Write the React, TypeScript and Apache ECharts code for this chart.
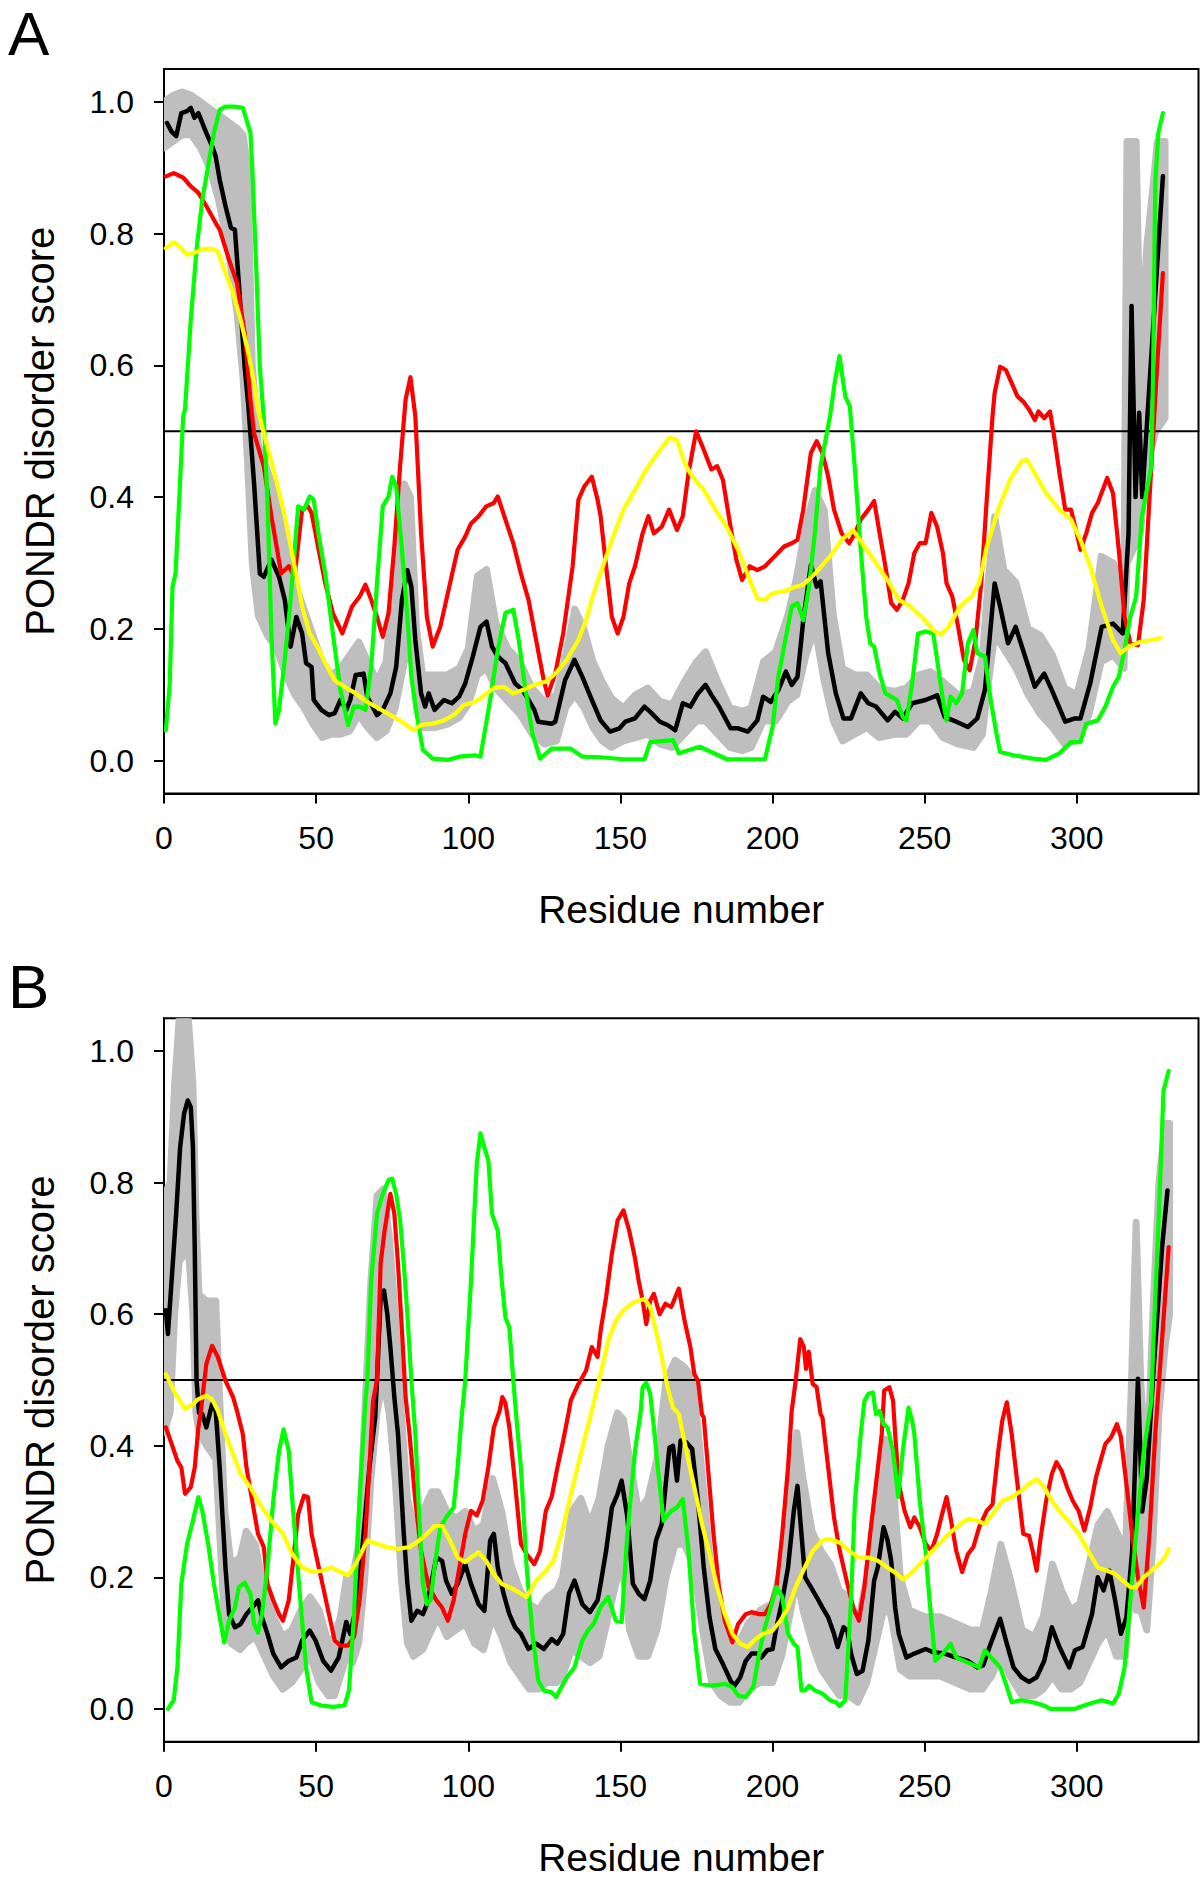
import React, { useEffect, useRef } from 'react';
import * as echarts from 'echarts';

// ---------- axes ----------
const xTicks = [0, 50, 100, 150, 200, 250, 300];
const yTicks = [0, 0.2, 0.4, 0.6, 0.8, 1.0];
const xRange = [0, 340];
const yRange = [-0.05, 1.05];
const threshold = 0.5;
const xTitle = 'Residue number';
const yTitle = 'PONDR disorder score';
const panelLabels = ['A', 'B'];

// ---------- panel A ----------
const blackA = [[1,0.968],[2.5,0.955],[4,0.948],[5.7,0.983],[7.6,0.986],[8.8,0.991],[10,0.976],[11.3,0.983],[13.9,0.953],[15.8,0.933],[17,0.917],[18.3,0.882],[20.2,0.842],[22,0.809],[23.3,0.806],[24.6,0.725],[26.5,0.598],[27.7,0.54],[29.6,0.421],[31.5,0.284],[32.8,0.279],[35.3,0.305],[37.8,0.279],[39.7,0.244],[41.6,0.173],[43.5,0.218],[45.4,0.193],[46.7,0.148],[48.5,0.142],[49.2,0.092],[51.7,0.077],[54.2,0.069],[56.1,0.072],[58,0.092],[59.9,0.077],[61.2,0.092],[63,0.13],[65.6,0.132],[66.8,0.097],[70,0.069],[71.9,0.077],[74.4,0.102],[76.3,0.142],[78.2,0.244],[80,0.289],[81.3,0.264],[82.6,0.183],[84.5,0.102],[85.8,0.082],[87,0.102],[88.9,0.077],[92,0.092],[94.6,0.087],[97,0.097],[99,0.117],[101.5,0.158],[104,0.203],[106,0.211],[107.8,0.173],[109.7,0.158],[112.2,0.148],[115.4,0.117],[117.9,0.107],[121.7,0.077],[123,0.059],[127.4,0.056],[128.6,0.059],[131.8,0.122],[134.9,0.153],[137.5,0.127],[140.6,0.092],[143.5,0.061],[146.6,0.044],[149.7,0.049],[151.6,0.059],[154.8,0.064],[157.9,0.082],[159.8,0.074],[163,0.059],[165.5,0.054],[168,0.046],[170.5,0.087],[173,0.082],[175.5,0.102],[178,0.115],[180,0.099],[182.4,0.082],[186.2,0.049],[188.7,0.049],[191.9,0.044],[195,0.061],[196.9,0.097],[199.4,0.089],[201.9,0.107],[204.4,0.135],[206.3,0.115],[208.2,0.127],[210.1,0.213],[212.6,0.297],[214.5,0.264],[215.8,0.272],[218.3,0.163],[220.8,0.102],[223.3,0.064],[225.8,0.064],[229,0.102],[231.5,0.087],[234,0.082],[237.8,0.061],[240.3,0.074],[242.8,0.064],[245.9,0.087],[250.3,0.092],[254.1,0.099],[256.6,0.066],[260.4,0.059],[264.2,0.051],[267.3,0.064],[269.8,0.107],[273,0.269],[274.8,0.234],[277.4,0.178],[279.9,0.203],[283,0.158],[286.2,0.112],[289.3,0.132],[291.8,0.107],[296.2,0.059],[299.4,0.064],[301.2,0.064],[304.4,0.117],[308.2,0.203],[311.9,0.208],[315.1,0.193],[317,0.345],[318,0.69],[319.3,0.4],[320.5,0.528],[321.5,0.4],[328.3,0.887]];

const redA = [[0.6,0.887],[3.2,0.892],[6.3,0.885],[8.8,0.872],[11.3,0.862],[13.9,0.842],[16.4,0.821],[18.3,0.806],[21.4,0.76],[24,0.725],[26.5,0.649],[28.4,0.548],[29.6,0.497],[32.8,0.447],[35.3,0.371],[37.2,0.32],[38.5,0.284],[41,0.295],[42.9,0.279],[45.4,0.381],[47.3,0.386],[48.5,0.376],[50.4,0.33],[53,0.269],[55.5,0.224],[58.6,0.193],[61.8,0.234],[64.3,0.249],[66.2,0.267],[68.1,0.244],[70,0.218],[71.9,0.188],[73.8,0.224],[75.7,0.325],[77.6,0.447],[79.4,0.548],[81,0.582],[82.6,0.523],[84.5,0.345],[86.4,0.218],[88.3,0.173],[90.8,0.203],[94,0.269],[96.5,0.32],[99,0.34],[100.9,0.36],[103.4,0.371],[105.9,0.386],[108.4,0.391],[109.7,0.401],[112.2,0.366],[114.8,0.33],[117.3,0.284],[119.8,0.244],[122.3,0.183],[124.8,0.122],[126.1,0.099],[128.6,0.132],[131.2,0.193],[134.3,0.295],[136.2,0.396],[138.1,0.416],[140.6,0.431],[142.5,0.396],[143.5,0.371],[145.3,0.295],[147.2,0.218],[149.1,0.193],[151,0.218],[152.9,0.269],[154.8,0.295],[157.3,0.345],[159.2,0.371],[161,0.345],[163.6,0.355],[166,0.381],[168.6,0.35],[170.5,0.371],[172.4,0.437],[174.9,0.5],[177.4,0.472],[179.9,0.442],[181.8,0.447],[183.7,0.426],[186.2,0.355],[188.1,0.305],[190,0.274],[192.5,0.295],[195,0.289],[197.5,0.295],[200.7,0.31],[203.8,0.325],[206.3,0.33],[208.2,0.335],[210.1,0.381],[212.6,0.467],[214.5,0.485],[216.4,0.467],[218.3,0.431],[220.2,0.381],[222.7,0.345],[225.2,0.33],[227.1,0.345],[229,0.366],[231.5,0.381],[233.4,0.394],[235.2,0.345],[237.1,0.295],[239,0.239],[240.9,0.229],[242.8,0.244],[244.7,0.269],[246.6,0.315],[248.4,0.33],[250.3,0.33],[252.2,0.376],[254.1,0.355],[256,0.315],[257.2,0.269],[259.1,0.249],[261,0.203],[262.9,0.153],[264.8,0.137],[266.7,0.183],[268.6,0.269],[270.4,0.396],[272.3,0.523],[273,0.558],[274.8,0.598],[276.7,0.593],[278.6,0.573],[280.5,0.553],[282.4,0.545],[284.3,0.533],[286.2,0.517],[287.4,0.53],[289.3,0.52],[291.2,0.53],[292.4,0.497],[294.3,0.437],[296.2,0.381],[298.1,0.381],[300,0.345],[301.2,0.32],[303.1,0.345],[305,0.376],[306.9,0.391],[310,0.429],[311.9,0.406],[313.8,0.32],[315.7,0.218],[317.6,0.178],[320.1,0.175],[322,0.244],[324.5,0.447],[326.4,0.598],[328.3,0.74]];

const greenA = [[0.6,0.046],[1.9,0.117],[2.8,0.264],[3.8,0.284],[5,0.396],[6.3,0.523],[6.9,0.533],[8.8,0.669],[10.7,0.776],[12.6,0.852],[14.5,0.902],[16.4,0.953],[18.3,0.988],[20.2,0.993],[22.7,0.993],[25.9,0.991],[27.1,0.973],[28.4,0.953],[29,0.902],[30.3,0.75],[31.5,0.598],[32.8,0.52],[34,0.396],[35.3,0.193],[36.6,0.056],[37.8,0.077],[39.7,0.153],[41.6,0.244],[44.1,0.386],[46,0.381],[47.9,0.401],[49.2,0.396],[51.1,0.335],[53,0.284],[55.5,0.193],[58,0.107],[60.5,0.054],[62.4,0.082],[64.3,0.082],[66.2,0.077],[68.1,0.142],[70,0.269],[71.9,0.386],[73.8,0.401],[75,0.431],[76.3,0.416],[78.2,0.32],[80,0.218],[81.3,0.127],[83.2,0.066],[85.1,0.016],[88.3,0.003],[93.3,0.001],[97.1,0.006],[102.1,0.008],[104,0.006],[105.3,0.041],[107.2,0.092],[109.7,0.168],[112.2,0.224],[114.8,0.229],[116.6,0.183],[118.5,0.117],[121.1,0.041],[123.6,0.003],[127.4,0.018],[133.7,0.018],[137.5,0.006],[143.5,0.005],[151,0.002],[157.9,0.002],[159.8,0.028],[167.3,0.031],[169.2,0.011],[176.1,0.021],[185,0.002],[197.5,0.002],[200,0.051],[201.9,0.127],[203.8,0.173],[206.3,0.234],[208.2,0.239],[210.1,0.213],[212,0.264],[213.9,0.345],[215.8,0.447],[218.9,0.523],[220.4,0.573],[222,0.614],[223.9,0.553],[225.4,0.538],[227,0.447],[229,0.32],[230.8,0.218],[232.1,0.178],[233.4,0.173],[235.2,0.132],[237.1,0.102],[239,0.097],[240.9,0.092],[242.8,0.066],[244,0.061],[245.9,0.117],[247.8,0.193],[250.3,0.196],[252.8,0.193],[254.1,0.153],[256,0.092],[257.2,0.061],[258.5,0.097],[260.4,0.087],[262.3,0.102],[264.2,0.178],[266,0.198],[267.3,0.163],[269.8,0.158],[271.7,0.092],[273.6,0.041],[274.8,0.013],[279.2,0.008],[285.5,0.003],[289.9,0.001],[294.3,0.011],[298.1,0.028],[301.2,0.028],[303.1,0.056],[306.9,0.061],[309.4,0.082],[311.9,0.112],[313.8,0.127],[315.7,0.168],[317.6,0.218],[319.5,0.249],[321.4,0.371],[324.5,0.447],[325.1,0.598],[325.8,0.877],[326.8,0.953],[328.3,0.983]];

const yellowA = [[0.6,0.778],[3.2,0.787],[5,0.781],[7.6,0.768],[10,0.771],[12.6,0.777],[15.8,0.777],[17.7,0.773],[20.2,0.74],[22.7,0.71],[25.2,0.669],[27.7,0.619],[29.6,0.573],[30.9,0.533],[32.8,0.497],[36.6,0.431],[39.7,0.371],[42.9,0.295],[45.4,0.234],[47.9,0.193],[50.4,0.173],[53,0.148],[56.1,0.122],[59.3,0.112],[63,0.102],[66.8,0.089],[70.6,0.079],[74.4,0.069],[78.2,0.059],[82,0.046],[84.5,0.054],[88.3,0.056],[92,0.061],[95.8,0.071],[98.4,0.084],[102.1,0.089],[104.7,0.097],[108.4,0.11],[111.6,0.112],[114.8,0.102],[117.9,0.107],[121.7,0.115],[125.5,0.12],[128.6,0.132],[132.4,0.153],[136.2,0.183],[138.7,0.213],[141.2,0.254],[143.5,0.285],[147.2,0.335],[151,0.381],[154.8,0.411],[158.5,0.442],[162.3,0.467],[166.1,0.49],[168.6,0.487],[171.1,0.452],[173.6,0.431],[177.4,0.411],[181.2,0.381],[184.9,0.355],[188.7,0.32],[192.5,0.274],[195,0.246],[197.5,0.244],[200,0.254],[203.8,0.257],[207.6,0.264],[210.1,0.267],[214,0.284],[218.9,0.31],[222.7,0.335],[226.4,0.35],[230.2,0.325],[234,0.3],[237.8,0.274],[241.5,0.244],[245.3,0.234],[249.1,0.218],[252.8,0.198],[255.4,0.191],[257.9,0.203],[261.6,0.234],[265.4,0.249],[267.9,0.269],[270.4,0.325],[274.2,0.381],[278,0.426],[281.8,0.454],[283.6,0.457],[286.8,0.431],[289.9,0.406],[294.3,0.381],[298.1,0.366],[301.2,0.335],[304.4,0.295],[308.2,0.234],[311.9,0.183],[314.4,0.163],[317,0.173],[320.7,0.18],[324.5,0.183],[327.6,0.186]];

const greyHighA = [[0,1.0],[3,1.01],[6,1.015],[9,1.01],[12,1.0],[15,0.99],[18,0.98],[21,0.97],[24,0.96],[26,0.95],[27.5,0.9],[29,0.6],[31,0.48],[34,0.44],[37,0.4],[40,0.33],[43,0.27],[46,0.23],[49,0.19],[52,0.15],[55,0.13],[58,0.14],[61,0.16],[64,0.18],[67,0.15],[70,0.12],[73,0.15],[76,0.3],[79,0.42],[81,0.4],[83,0.2],[85,0.13],[89,0.13],[93,0.13],[97,0.14],[100,0.17],[103,0.28],[106,0.29],[109,0.21],[113,0.17],[117,0.15],[121,0.11],[125,0.09],[129,0.1],[132,0.16],[135,0.23],[138,0.2],[141,0.15],[144,0.12],[147,0.095],[151,0.08],[155,0.1],[159,0.11],[163,0.09],[167,0.085],[171,0.12],[175,0.15],[178,0.165],[182,0.12],[186,0.08],[190,0.075],[193,0.08],[197,0.15],[201,0.165],[205,0.22],[208,0.28],[211,0.36],[214,0.41],[217,0.38],[220,0.22],[223,0.14],[227,0.13],[231,0.13],[235,0.11],[240,0.105],[244,0.11],[248,0.13],[252,0.135],[256,0.12],[261,0.1],[266,0.105],[269,0.16],[271,0.28],[273,0.37],[276,0.29],[280,0.27],[284,0.2],[288,0.19],[292,0.16],[296,0.11],[300,0.1],[304,0.17],[308,0.31],[312,0.3],[315.5,0.26],[316.5,0.94],[319.5,0.94],[320.5,0.7],[322,0.7],[323,0.78],[325,0.87],[326.5,0.94],[329,0.94]];

const greyLowA = [[0,0.93],[3,0.94],[6,0.95],[9,0.95],[12,0.93],[15,0.9],[18,0.85],[21,0.78],[24,0.68],[26,0.58],[27.5,0.45],[29,0.3],[31,0.22],[34,0.19],[37,0.17],[40,0.13],[43,0.1],[46,0.08],[49,0.055],[52,0.035],[55,0.04],[58,0.04],[61,0.045],[64,0.07],[67,0.05],[70,0.035],[73,0.045],[76,0.08],[79,0.15],[81,0.17],[83,0.08],[85,0.05],[89,0.05],[93,0.055],[97,0.065],[100,0.085],[103,0.13],[106,0.14],[109,0.11],[113,0.09],[117,0.07],[121,0.04],[125,0.025],[129,0.03],[132,0.08],[135,0.1],[138,0.08],[141,0.05],[144,0.03],[147,0.02],[151,0.03],[155,0.035],[159,0.04],[163,0.025],[167,0.02],[171,0.04],[175,0.06],[178,0.06],[182,0.04],[186,0.02],[190,0.015],[193,0.02],[197,0.06],[201,0.06],[205,0.09],[208,0.1],[211,0.16],[214,0.2],[217,0.12],[220,0.06],[223,0.03],[227,0.04],[231,0.05],[235,0.035],[240,0.04],[244,0.04],[248,0.06],[252,0.06],[256,0.035],[261,0.025],[266,0.02],[269,0.04],[271,0.12],[273,0.19],[276,0.17],[280,0.14],[284,0.1],[288,0.07],[292,0.05],[296,0.025],[300,0.03],[304,0.07],[308,0.15],[312,0.16],[315.5,0.14],[316.5,0.3],[319.5,0.33],[321,0.35],[323,0.45],[326,0.5],[329,0.52]];

// ---------- panel B ----------
const blackB = [[0.6,0.606],[1.3,0.57],[2.5,0.651],[4,0.753],[5.3,0.854],[6.6,0.905],[7.8,0.925],[8.8,0.915],[9.5,0.854],[10.1,0.702],[10.7,0.5],[11.5,0.45],[12.6,0.448],[13.9,0.428],[15.8,0.463],[17,0.453],[18.3,0.367],[20.2,0.215],[21.4,0.144],[23.3,0.124],[25.2,0.129],[27.1,0.144],[29,0.154],[30.9,0.165],[32.2,0.139],[34,0.114],[35.9,0.084],[38.5,0.063],[41,0.073],[43.5,0.078],[45.4,0.104],[47.9,0.119],[49.8,0.104],[52.3,0.073],[54.9,0.058],[57.4,0.078],[59.9,0.132],[61.2,0.114],[63.7,0.165],[65.6,0.266],[67.5,0.367],[69.4,0.443],[70,0.499],[71.2,0.626],[72.3,0.636],[73.4,0.6],[74.4,0.55],[75.7,0.474],[76.9,0.418],[78.8,0.266],[80,0.19],[81.3,0.134],[83.2,0.149],[85.1,0.144],[86.4,0.159],[87.6,0.185],[89.5,0.23],[91.4,0.225],[92.7,0.195],[94.6,0.175],[96.5,0.19],[99,0.22],[100.9,0.19],[103.4,0.159],[105.3,0.149],[107.2,0.256],[108.4,0.266],[109.7,0.215],[111.6,0.175],[113.5,0.144],[115.4,0.124],[117.3,0.114],[119.8,0.091],[122.3,0.099],[124.8,0.091],[127.4,0.106],[129.3,0.099],[131.2,0.114],[133.1,0.175],[134.9,0.195],[137.5,0.159],[140,0.147],[142.5,0.165],[143.5,0.19],[145.3,0.24],[147.2,0.306],[149.1,0.327],[150.4,0.347],[152.3,0.291],[154.1,0.19],[156,0.175],[157.9,0.167],[159.8,0.195],[161.7,0.256],[163.6,0.281],[166.1,0.397],[167.3,0.4],[168.6,0.347],[169.8,0.408],[171.7,0.405],[173.6,0.395],[175.5,0.316],[177.4,0.215],[179.3,0.139],[181.2,0.091],[183.7,0.068],[186.2,0.043],[187.5,0.035],[189.4,0.048],[191.2,0.073],[193.1,0.084],[195,0.084],[196.3,0.078],[198.2,0.089],[200,0.091],[201.3,0.124],[203.2,0.165],[205.1,0.215],[207,0.301],[208.2,0.339],[209.5,0.266],[210.7,0.2],[212.6,0.185],[214.5,0.17],[216.4,0.154],[218.3,0.139],[220.2,0.114],[221.4,0.094],[223.3,0.124],[224.6,0.119],[225.8,0.084],[227.7,0.053],[229.6,0.058],[231.5,0.104],[233.4,0.195],[234.6,0.215],[236.5,0.276],[237.8,0.256],[239,0.225],[240.3,0.154],[241.5,0.114],[244,0.078],[246.6,0.084],[250.3,0.091],[252.8,0.086],[256.6,0.084],[260.4,0.078],[264.2,0.073],[267.3,0.063],[269.2,0.066],[271.7,0.099],[274.8,0.137],[276.7,0.104],[279.2,0.063],[281.8,0.048],[284.3,0.041],[286.8,0.048],[289.3,0.073],[291.8,0.124],[294.3,0.094],[297.5,0.063],[299.4,0.089],[301.9,0.094],[305,0.144],[306.9,0.2],[308.8,0.18],[310.7,0.21],[312.6,0.165],[314.5,0.114],[316.3,0.139],[318.2,0.24],[319.5,0.418],[320.1,0.502],[321.5,0.3],[323,0.35],[325,0.5],[328,0.7],[329.8,0.788]];

const redB = [[0.6,0.428],[2.5,0.403],[4.4,0.377],[5.7,0.367],[6.9,0.327],[8.8,0.337],[10.1,0.367],[11.3,0.428],[12,0.448],[13.9,0.524],[15.8,0.552],[17.7,0.535],[20.2,0.499],[22.7,0.474],[24,0.453],[25.9,0.418],[27.1,0.367],[29,0.316],[30.9,0.266],[32.8,0.246],[34,0.19],[35.9,0.165],[37.8,0.144],[39.1,0.134],[41,0.165],[42.2,0.215],[44.1,0.296],[46,0.324],[47.3,0.322],[48.5,0.266],[50.4,0.225],[52.3,0.185],[54.2,0.144],[56.1,0.104],[58,0.096],[60.5,0.096],[62.5,0.11],[64.3,0.165],[66.2,0.266],[67.5,0.367],[68.7,0.468],[70,0.499],[71.2,0.677],[72.5,0.727],[74.4,0.783],[75.7,0.753],[76.9,0.677],[78.2,0.575],[79.4,0.474],[80.7,0.418],[82.6,0.316],[84.5,0.24],[87,0.185],[89.5,0.165],[91.4,0.154],[93.3,0.134],[95.2,0.165],[97.1,0.215],[99,0.266],[100.9,0.301],[102.8,0.294],[104.7,0.316],[106.6,0.367],[108.4,0.428],[110.3,0.453],[111.2,0.474],[112.2,0.465],[113.5,0.428],[115.4,0.342],[117.3,0.251],[119.2,0.235],[121.7,0.22],[123.6,0.24],[125.5,0.301],[127.4,0.322],[129.3,0.367],[131.2,0.408],[133.1,0.453],[133.7,0.469],[136.2,0.494],[138.7,0.514],[140.6,0.55],[142.5,0.535],[143.5,0.575],[145.3,0.626],[147.2,0.692],[149.1,0.743],[151,0.758],[152.9,0.727],[154.8,0.685],[156,0.651],[157.3,0.621],[158.5,0.585],[159.8,0.621],[161,0.631],[162.9,0.6],[164.8,0.616],[166.7,0.611],[169.2,0.639],[171.1,0.59],[173,0.55],[174.3,0.509],[175.5,0.499],[176.8,0.448],[177.4,0.443],[178.6,0.377],[180.6,0.266],[182.4,0.185],[184.3,0.134],[186.8,0.101],[188.7,0.129],[191.2,0.144],[193.1,0.147],[195.6,0.144],[197.5,0.144],[199.4,0.159],[201.3,0.185],[203.2,0.266],[205.1,0.367],[206.3,0.453],[207.6,0.499],[209.1,0.562],[210.3,0.55],[211,0.517],[211.9,0.543],[213.2,0.494],[214.5,0.489],[215.8,0.448],[216.4,0.443],[218.3,0.367],[220.2,0.291],[222.1,0.24],[224.6,0.19],[226.5,0.154],[228.4,0.134],[230.2,0.185],[232.1,0.266],[234,0.342],[235.9,0.418],[236.7,0.484],[238.4,0.489],[239.6,0.469],[240.3,0.418],[241.5,0.342],[243.4,0.301],[245.3,0.276],[246.6,0.291],[248.4,0.276],[250.3,0.251],[252.2,0.24],[254.1,0.266],[256,0.301],[257.2,0.322],[258.5,0.291],[260.4,0.24],[262.3,0.208],[264.2,0.235],[266,0.246],[267.9,0.276],[270.4,0.301],[272.3,0.311],[274.2,0.392],[275.5,0.438],[277,0.466],[278.6,0.418],[280.5,0.342],[282.4,0.266],[284.3,0.263],[285.5,0.24],[286.8,0.21],[288,0.256],[289.9,0.316],[291.8,0.357],[293.3,0.375],[295,0.362],[296.8,0.337],[298.7,0.316],[300.6,0.301],[302.5,0.271],[304.4,0.306],[306.3,0.352],[307.5,0.372],[309.4,0.403],[311.3,0.413],[313.2,0.433],[314.5,0.413],[316.3,0.342],[318.2,0.266],[320.1,0.2],[322,0.154],[323.9,0.266],[325.8,0.418],[328,0.56],[330.2,0.702]];

const greenB = [[1.3,0],[3.2,0.013],[4.4,0.063],[5.7,0.19],[7.6,0.251],[9.5,0.286],[11.3,0.322],[12.6,0.301],[14.5,0.251],[16.4,0.19],[18.3,0.139],[19.8,0.101],[21.4,0.134],[23.3,0.154],[24.6,0.185],[26.5,0.192],[28.4,0.175],[29.6,0.129],[30.9,0.116],[32.2,0.144],[34,0.215],[35.9,0.316],[37.8,0.392],[39.3,0.425],[41,0.392],[42.2,0.316],[43.5,0.24],[44.8,0.165],[46.7,0.063],[48.5,0.01],[51.7,0.005],[55.5,0.003],[59.3,0.005],[60.8,0.028],[62.4,0.139],[63.7,0.266],[64.9,0.367],[66.2,0.468],[66.8,0.499],[68.1,0.651],[70,0.753],[71.9,0.783],[73.8,0.804],[75,0.806],[76.3,0.783],[77.6,0.743],[78.8,0.677],[80,0.6],[81.3,0.499],[82.6,0.418],[83.9,0.291],[85.1,0.19],[86.4,0.159],[87.6,0.165],[88.9,0.215],[90.8,0.276],[92.7,0.291],[95.2,0.306],[96.5,0.367],[97.7,0.438],[99,0.499],[100.9,0.651],[102.8,0.829],[104,0.875],[105.3,0.854],[106.6,0.834],[107.8,0.753],[109.7,0.727],[111,0.651],[112.2,0.595],[113.5,0.58],[114.8,0.499],[116,0.433],[117.3,0.367],[119.2,0.215],[121.1,0.114],[123,0.043],[124.8,0.028],[127.4,0.025],[128.9,0.018],[130.6,0.033],[132.4,0.048],[134.9,0.063],[137.5,0.104],[139.3,0.119],[141.2,0.129],[143.5,0.155],[146,0.17],[148.5,0.134],[150.4,0.132],[152.3,0.266],[154.8,0.392],[156.7,0.453],[157.3,0.489],[158.5,0.496],[159.8,0.479],[161,0.428],[162.3,0.367],[164.2,0.286],[166.7,0.301],[168.6,0.306],[170.5,0.319],[172.4,0.24],[174.3,0.114],[176.2,0.038],[180,0.035],[184.3,0.038],[186.8,0.033],[188.7,0.02],[191.2,0.018],[193.7,0.033],[195.6,0.084],[197.5,0.124],[199.4,0.154],[201.3,0.185],[203.2,0.17],[205.1,0.114],[207,0.099],[208.2,0.094],[209.5,0.028],[210.7,0.028],[212,0.035],[213.9,0.028],[216.4,0.023],[218.9,0.013],[220.8,0.01],[222,0.004],[223.9,0.013],[225.8,0.165],[227.1,0.316],[229,0.418],[230.2,0.468],[231.5,0.479],[233,0.481],[234,0.448],[235.2,0.453],[236.5,0.433],[237.8,0.428],[239.6,0.392],[241.3,0.322],[242.8,0.392],[244.7,0.458],[245.9,0.438],[246.6,0.418],[248.4,0.316],[250.3,0.24],[251.6,0.165],[253.5,0.073],[256,0.084],[258.5,0.099],[260.4,0.078],[262.9,0.073],[265.4,0.068],[267.9,0.063],[269.8,0.089],[272.3,0.076],[274.8,0.063],[276.7,0.038],[278.6,0.01],[281.8,0.013],[285.5,0.01],[289.3,0.005],[291.2,0],[299.4,0],[304.4,0.008],[308.2,0.013],[311.9,0.008],[313.8,0.023],[315.7,0.063],[317.6,0.165],[319.5,0.266],[322,0.392],[324.5,0.468],[325.1,0.55],[327,0.753],[328.5,0.94],[330.2,0.97]];

const yellowB = [[0.6,0.509],[3.8,0.479],[6.9,0.456],[9.5,0.463],[11.3,0.471],[13.9,0.476],[15.8,0.471],[17.7,0.453],[20.2,0.418],[22.7,0.387],[25.2,0.357],[28.4,0.337],[31.5,0.311],[35.3,0.286],[39.1,0.266],[42.2,0.235],[45.4,0.215],[49.2,0.208],[51.7,0.21],[54.9,0.215],[58,0.208],[60.5,0.203],[63,0.22],[66.8,0.256],[70,0.251],[73.1,0.246],[76.9,0.243],[80.7,0.246],[83.9,0.256],[86.4,0.266],[88.9,0.278],[91.4,0.278],[94,0.256],[96.5,0.23],[99,0.223],[100.9,0.23],[103.4,0.238],[105.9,0.225],[108.4,0.205],[111,0.19],[114.8,0.182],[117.3,0.175],[119.2,0.17],[122.3,0.195],[125.5,0.21],[128,0.225],[131.2,0.276],[134.3,0.337],[137.5,0.397],[140.6,0.453],[143.5,0.509],[146,0.56],[148.5,0.59],[151,0.606],[153.5,0.616],[156,0.621],[157.9,0.623],[159.8,0.611],[161.7,0.575],[163.6,0.535],[165.5,0.489],[167.3,0.458],[169.2,0.448],[171.7,0.392],[174.3,0.337],[176.8,0.281],[179.3,0.235],[181.8,0.185],[184.3,0.144],[186.8,0.114],[189.4,0.099],[191.9,0.094],[194.4,0.106],[196.9,0.114],[200,0.119],[202.6,0.134],[205.1,0.154],[207.6,0.185],[210.1,0.21],[213.2,0.24],[216.4,0.256],[218.9,0.258],[222,0.253],[225.2,0.24],[228.4,0.23],[231.5,0.23],[234.6,0.225],[237.8,0.215],[240.9,0.205],[242.8,0.197],[245.3,0.205],[248.4,0.22],[251.6,0.235],[254.7,0.251],[257.9,0.266],[261,0.278],[264.2,0.289],[267.3,0.286],[269.8,0.281],[272.3,0.296],[275.5,0.316],[278.6,0.322],[281.8,0.332],[284.3,0.342],[286.8,0.349],[289.3,0.337],[291.8,0.316],[294.3,0.301],[297.5,0.284],[300.6,0.266],[303.8,0.24],[306.9,0.215],[310,0.21],[312.6,0.205],[315.1,0.195],[317.6,0.185],[319.5,0.185],[322,0.2],[324.5,0.21],[327,0.22],[328.9,0.23],[330.2,0.243]];

const greyHighB = [[0,0.78],[2,0.8],[3.5,0.95],[5,1.05],[8,1.05],[9.5,0.95],[10.5,0.75],[11.5,0.63],[14,0.62],[17,0.62],[18.5,0.45],[20,0.3],[22,0.22],[25,0.23],[27,0.27],[30,0.25],[33,0.18],[36,0.14],[39,0.11],[42,0.12],[45,0.15],[48,0.17],[51,0.15],[54,0.1],[56,0.11],[58,0.14],[60,0.2],[62,0.2],[64,0.25],[66,0.45],[68,0.65],[70,0.78],[72,0.79],[74,0.72],[76,0.6],[78,0.45],[80,0.32],[82,0.28],[85,0.3],[88,0.33],[90,0.33],[93,0.3],[96,0.29],[99,0.3],[102,0.27],[105,0.28],[108,0.35],[111,0.3],[114,0.22],[117,0.18],[120,0.16],[123,0.15],[126,0.17],[129,0.18],[131,0.2],[134,0.3],[137,0.32],[140,0.28],[143,0.32],[146,0.4],[149,0.45],[151,0.44],[153,0.38],[156,0.3],[159,0.32],[162,0.38],[165,0.5],[168,0.53],[171,0.52],[174,0.5],[177,0.35],[180,0.2],[183,0.14],[186,0.1],[189,0.1],[192,0.13],[196,0.15],[200,0.16],[203,0.22],[206,0.36],[208,0.42],[210,0.35],[213,0.27],[216,0.24],[219,0.22],[222,0.18],[225,0.17],[228,0.13],[231,0.2],[234,0.32],[237,0.41],[239,0.38],[242,0.2],[245,0.15],[250,0.14],[255,0.14],[260,0.13],[265,0.12],[269,0.12],[272,0.18],[275,0.25],[278,0.2],[282,0.12],[286,0.11],[289,0.14],[292,0.22],[295,0.18],[298,0.15],[301,0.16],[304,0.22],[307,0.28],[310,0.3],[313,0.27],[316,0.24],[318,0.5],[319.5,0.74],[321,0.5],[323,0.35],[325,0.6],[327,0.8],[329,0.89],[330.5,0.89]];

const greyLowB = [[0,0.42],[2,0.45],[3.5,0.6],[5,0.68],[8,0.7],[9.5,0.6],[10.5,0.45],[11.5,0.42],[14,0.4],[17,0.38],[18.5,0.25],[20,0.12],[22,0.1],[25,0.09],[27,0.1],[30,0.11],[33,0.08],[36,0.05],[39,0.03],[42,0.04],[45,0.06],[48,0.08],[51,0.04],[54,0.02],[56,0.02],[58,0.05],[60,0.08],[62,0.07],[64,0.1],[66,0.2],[68,0.35],[70,0.45],[72,0.5],[74,0.45],[76,0.35],[78,0.2],[80,0.1],[82,0.08],[85,0.09],[88,0.12],[90,0.14],[93,0.11],[96,0.12],[99,0.13],[102,0.1],[105,0.09],[108,0.14],[111,0.11],[114,0.07],[117,0.05],[120,0.03],[123,0.03],[126,0.04],[129,0.04],[131,0.05],[134,0.09],[137,0.08],[140,0.07],[143,0.08],[146,0.14],[149,0.2],[151,0.2],[153,0.12],[156,0.08],[159,0.08],[162,0.12],[165,0.2],[168,0.25],[171,0.25],[174,0.22],[177,0.12],[180,0.04],[183,0.02],[186,0.01],[189,0.01],[192,0.03],[196,0.04],[200,0.04],[203,0.08],[206,0.15],[208,0.2],[210,0.15],[213,0.1],[216,0.06],[219,0.04],[222,0.02],[225,0.02],[228,0.01],[231,0.04],[234,0.1],[237,0.16],[239,0.14],[242,0.06],[245,0.05],[250,0.05],[255,0.05],[260,0.04],[265,0.03],[269,0.03],[272,0.05],[275,0.08],[278,0.05],[282,0.02],[286,0.02],[289,0.03],[292,0.05],[295,0.03],[298,0.03],[301,0.04],[304,0.07],[307,0.1],[310,0.12],[313,0.08],[316,0.08],[318,0.2],[319.5,0.15],[321,0.15],[323,0.12],[325,0.25],[327,0.45],[329,0.55],[330.5,0.6]];

const FONT = "'Liberation Sans', Arial, Helvetica, sans-serif";
const GREY = '#bebebe';

const panels = [
  { grid: { left: 164, top: 69, width: 1034.5, height: 724.5 }, black: blackA, red: redA, green: greenA, yellow: yellowA, hi: greyHighA, lo: greyLowA },
  { grid: { left: 164, top: 1018.3, width: 1034.5, height: 723.4 }, black: blackB, red: redB, green: greenB, yellow: yellowB, hi: greyHighB, lo: greyLowB },
];

function lineSeries(data: number[][], color: string, width: number, idx: number) {
  return {
    type: 'line', xAxisIndex: idx, yAxisIndex: idx, data, showSymbol: false, symbol: 'none',
    silent: true, clip: true, smooth: false,
    lineStyle: { color, width, join: 'round', cap: 'round' }, itemStyle: { color },
  };
}

function bandSeries(hi: number[][], lo: number[][], idx: number) {
  return {
    type: 'custom', xAxisIndex: idx, yAxisIndex: idx, silent: true, clip: true,
    data: [[0, 0]],
    renderItem: (_params: any, api: any) => {
      const pts = hi.map((p) => api.coord(p)).concat(lo.slice().reverse().map((p) => api.coord(p)));
      return {
        type: 'polygon',
        shape: { points: pts },
        style: { fill: GREY, stroke: GREY, lineWidth: 7, lineJoin: 'round' },
      };
    },
  };
}

export default function App() {
  const ref = useRef<HTMLDivElement>(null);
  useEffect(() => {
    const chart = echarts.init(ref.current as HTMLDivElement, null, { renderer: 'svg' });
    const grid = panels.map((p) => ({ ...p.grid, show: true, borderColor: '#000', borderWidth: 2, backgroundColor: 'transparent', containLabel: false, outerBoundsMode: 'none' }));
    const xAxis = panels.map((_, i) => ({
      type: 'value', gridIndex: i, min: xRange[0], max: xRange[1],
      axisLine: { show: true, onZero: false, lineStyle: { color: '#000', width: 2 } },
      axisTick: { show: true, length: 10, customValues: xTicks, lineStyle: { color: '#000', width: 2 } },
      axisLabel: { show: true, customValues: xTicks, margin: 28, fontSize: 32, color: '#000', fontFamily: FONT, formatter: (v: number) => String(v) },
      splitLine: { show: false },
    }));
    const yAxis = panels.map((_, i) => ({
      type: 'value', gridIndex: i, min: yRange[0], max: yRange[1],
      axisLine: { show: true, onZero: false, lineStyle: { color: '#000', width: 2 } },
      axisTick: { show: true, length: 10, customValues: yTicks, lineStyle: { color: '#000', width: 2 } },
      axisLabel: { show: true, customValues: yTicks, margin: 30, fontSize: 32, color: '#000', fontFamily: FONT, formatter: (v: number) => v.toFixed(1) },
      splitLine: { show: false },
    }));
    const series: any[] = [];
    panels.forEach((p, i) => {
      series.push(lineSeries([[xRange[0], threshold], [xRange[1], threshold]], '#000', 2, i));
      series.push(bandSeries(p.hi, p.lo, i));
      series.push(lineSeries(p.black, '#000', 4.5, i));
      series.push(lineSeries(p.red, '#ff0000', 4.2, i));
      series.push(lineSeries(p.green, '#00ff00', 4.2, i));
      series.push(lineSeries(p.yellow, '#ffff00', 4.2, i));
    });
    const graphic: any[] = [];
    panels.forEach((p, i) => {
      const g = p.grid;
      const cx = g.left + g.width / 2;
      const cy = g.top + g.height / 2;
      graphic.push({ type: 'text', x: 8, y: i === 0 ? 33 : 986, style: { text: panelLabels[i], fontSize: 62, lineHeight: 62, fontFamily: FONT, fill: '#000', textAlign: 'left', textVerticalAlign: 'middle' } });
      graphic.push({ type: 'text', x: cx, y: g.top + g.height + 115.5, style: { text: xTitle, fontSize: 39, fontFamily: FONT, fill: '#000', textAlign: 'center', textVerticalAlign: 'middle' } });
      graphic.push({ type: 'text', x: 40, y: cy, rotation: Math.PI / 2, style: { text: yTitle, fontSize: 40, fontFamily: FONT, fill: '#000', textAlign: 'center', textVerticalAlign: 'middle' } });
    });
    chart.setOption({
      animation: false,
      backgroundColor: '#fff',
      grid, xAxis, yAxis, series, graphic,
    });
    return () => chart.dispose();
  }, []);
  return <div ref={ref} style={{ position: 'absolute', left: 0, top: 0, width: 1200, height: 1879, background: '#fff' }} />;
}
